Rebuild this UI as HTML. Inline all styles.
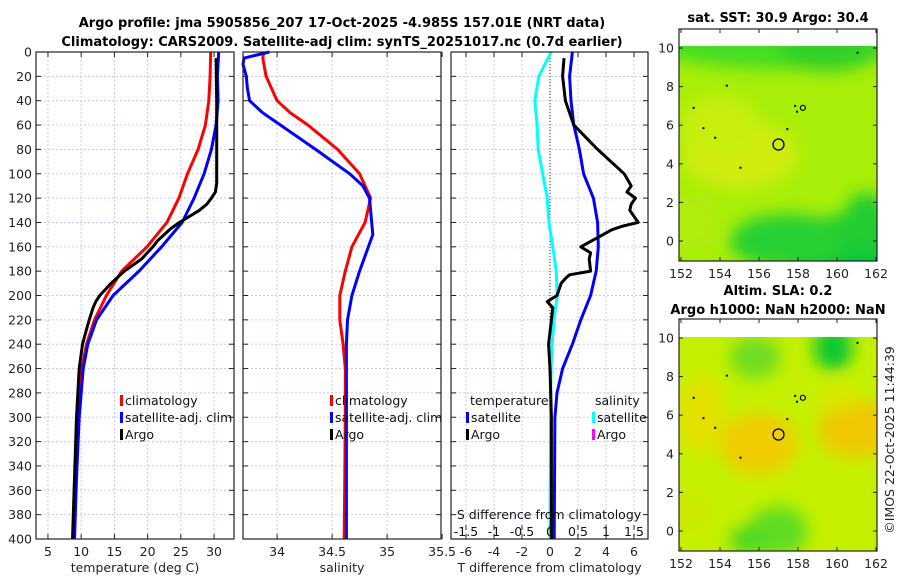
<!DOCTYPE html>
<html><head><meta charset="utf-8"><style>
html,body{margin:0;padding:0;background:#fff;}
svg{display:block;font-family:"DejaVu Sans","Liberation Sans",sans-serif;}
</style></head><body>
<svg id="fig" width="900" height="580" viewBox="0 0 900 580">
<defs>
<filter id="blur1" x="-50%" y="-50%" width="200%" height="200%"><feGaussianBlur stdDeviation="8"/></filter>
<clipPath id="clipM1"><rect x="679" y="46" width="198" height="215"/></clipPath>
<clipPath id="clipM2"><rect x="679" y="337" width="198" height="214"/></clipPath>
</defs>
<text x="342" y="27" text-anchor="middle" font-size="13" font-weight="bold">Argo profile: jma 5905856_207 17-Oct-2025 -4.985S 157.01E (NRT data)</text>
<text x="342" y="46" text-anchor="middle" font-size="13" font-weight="bold">Climatology: CARS2009. Satellite-adj clim: synTS_20251017.nc (0.7d earlier)</text>
<text x="778" y="22" text-anchor="middle" font-size="13" font-weight="bold">sat. SST: 30.9 Argo: 30.4</text>
<text x="778" y="295" text-anchor="middle" font-size="13" font-weight="bold">Altim. SLA: 0.2</text>
<text x="778" y="314" text-anchor="middle" font-size="13" font-weight="bold">Argo h1000: NaN h2000: NaN</text>
<text transform="translate(894,440) rotate(-90)" text-anchor="middle" font-size="12.5" fill="#222">©IMOS 22-Oct-2025 11:44:39</text>
<g id="panels"></g>
</svg>
<script>
// ---- data ----
const depthTicks=[0,20,40,60,80,100,120,140,160,180,200,220,240,260,280,300,320,340,360,380,400];
const tempTicks=[5,10,15,20,25,30];
const salTicks=[34,34.5,35,35.5];
const tdiffTicks=[-6,-4,-2,0,2,4,6];
const sdiffTicks=[-1.5,-1,-0.5,0,0.5,1,1.5];
const latTicks=[0,2,4,6,8,10];
const lonTicks=[152,154,156,158,160,162];

const climDepthT=[0,20,40,60,80,100,120,140,160,180,200,220,240,260,300,350,400];
const climTemp=[29.5,29.4,29.2,28.7,27.6,26,24.7,22.9,19.9,16.1,13.8,12,10.8,10.1,9.5,9.1,8.8];
const satDepthT=[0,20,40,60,80,100,120,140,160,180,200,220,240,260,300,350,400];
const satTemp=[30.7,30.5,30.6,30.3,29.6,28.5,27,25.2,22.1,18.7,14.8,12.3,11,10.3,9.7,9.3,9];
const argoDepth=[5,40,80,108,115,120,125,130,135,140,145,150,155,160,170,180,190,200,205,210,220,230,240,260,300,350,400];
const argoTemp=[30.3,30.4,30.4,30.4,30.2,29.6,28.9,27.8,26.3,24.8,23.5,22.5,21.5,20.8,19.1,16.5,14.5,12.8,12.2,11.8,11.2,10.7,10.2,9.7,9.3,9,8.7];

const climDepthS=[0,5,20,30,40,50,60,80,100,120,140,160,180,200,220,240,260,300,400];
const climSal=[33.88,33.87,33.9,33.95,34.0,34.12,34.28,34.55,34.75,34.85,34.8,34.68,34.62,34.57,34.57,34.6,34.62,34.62,34.61];
const satDepthS=[0,5,10,20,30,40,50,60,80,100,110,120,140,150,160,180,200,220,240,300,400];
const satSal=[33.93,33.7,33.69,33.72,33.73,33.75,33.87,34.03,34.35,34.66,34.78,34.84,34.86,34.87,34.83,34.75,34.68,34.64,34.63,34.63,34.63];

const diffDepthA=[5,20,40,60,80,100,110,115,120,125,130,140,143,146,150,160,165,170,180,183,186,190,200,205,210,220,240,260,300,400];
const argoTdiff=[1.0,0.9,1.1,1.7,3.4,5.3,5.8,5.5,6.1,5.8,5.7,6.3,5.2,4.4,3.8,2.2,2.9,2.8,2.9,1.4,1.1,0.8,0.5,-0.2,0.2,0.1,-0.1,0,0.1,0.1];
const diffDepthS=[0,20,40,60,80,100,120,140,160,180,200,220,240,260,280,300,400];
const satTdiff=[1.6,1.4,1.5,1.7,2.1,2.4,3.1,3.4,3.45,3.3,2.9,2.2,1.6,0.9,0.5,0.35,0.3];
const satSdiff=[0.02,-0.2,-0.27,-0.23,-0.21,-0.13,-0.05,-0.02,0.05,0.11,0.13,0.07,0.04,0.02,0.01,0.01,0];

const NS='http://www.w3.org/2000/svg';
const root=document.getElementById('panels');
function el(tag,attrs,parent){const e=document.createElementNS(NS,tag);for(const k in attrs)e.setAttribute(k,attrs[k]);(parent||root).appendChild(e);return e;}

const Y0=52,Y1=539;
const yD=d=>Y0+(d/400)*(Y1-Y0);

function panel(name,x0,x1,xmin,xmax,xticks,xlabel,showY){
  const g=el('g',{});
  
  
  const xs=v=>x0+(v-xmin)/(xmax-xmin)*(x1-x0);
  xticks.forEach(t=>{const x=xs(t);if(x>x0+1&&x<x1-1){const l=el('line',{x1:x,x2:x,y1:Y0,y2:Y1,stroke:'#c8c8f0','stroke-width':1,'stroke-dasharray':'2,2'},g);}});
  depthTicks.forEach(d=>{const y=yD(d);if(d>0&&d<400){const l=el('line',{x1:x0,x2:x1,y1:y,y2:y,stroke:'#c8c8f0','stroke-width':1,'stroke-dasharray':'2,2'},g);}
    el('line',{x1:x0,x2:x0+5,y1:y,y2:y,stroke:'#222'},g);el('line',{x1:x1,x2:x1-5,y1:y,y2:y,stroke:'#222'},g);
    if(showY){const t=el('text',{x:x0-4,y:y+4.5,'text-anchor':'end','font-size':12.5,fill:'#222'},g);t.textContent=d;}
  });
  xticks.forEach(t=>{const x=xs(t);el('line',{x1:x,x2:x,y1:Y1,y2:Y1-5,stroke:'#222'},g);el('line',{x1:x,x2:x,y1:Y0,y2:Y0+5,stroke:'#222'},g);
    const tx=el('text',{x:x,y:Y1+17,'text-anchor':'middle','font-size':12.5,fill:'#222'},g);tx.textContent=t;});
  const xl=el('text',{x:(x0+x1)/2,y:572,'text-anchor':'middle','font-size':12.5,fill:'#222'},g);xl.textContent=xlabel;
  
  
  return {g,xs,x0,x1};
}
function line(p,depths,vals,color,name,w){
  const pts=depths.map((d,i)=>p.xs(vals[i]).toFixed(1)+','+yD(d).toFixed(1)).join(' ');
  const l=el('polyline',{points:pts,fill:'none',stroke:color,'stroke-width':w||3,'stroke-linejoin':'round'},p.g);
  
  
}
function frame(p){el('rect',{x:p.x0,y:Y0,width:p.x1-p.x0,height:Y1-Y0,fill:'none',stroke:'#222','stroke-width':1.2},p.g);}
function legend(g,x,y,items){
  items.forEach((it,i)=>{const yy=y+i*17;
    el('rect',{x:x,y:yy-10,width:3,height:11,fill:it[1]},g);
    const t=el('text',{x:x+5,y:yy,'font-size':12.5,fill:'#111'},g);t.textContent=it[0];
    
    
  });
}

const p1=panel('temperature-panel',36,234,3.2,33,tempTicks,'temperature (deg C)',true);
line(p1,climDepthT,climTemp,'#ff0000','climatology-temp-line');
line(p1,satDepthT,satTemp,'#0000ff','satellite-temp-line');
line(p1,argoDepth,argoTemp,'#000000','argo-temp-line');
legend(p1.g,120,405,[['climatology','#ff0000'],['satellite-adj. clim','#0000ff'],['Argo','#000']]);
frame(p1);

const p2=panel('salinity-panel',243,441,33.69,35.49,salTicks,'salinity',false);
line(p2,climDepthS,climSal,'#ff0000','climatology-salinity-line');
line(p2,satDepthS,satSal,'#0000ff','satellite-salinity-line');
legend(p2.g,330,405,[['climatology','#ff0000'],['satellite-adj. clim','#0000ff'],['Argo','#000']]);
frame(p2);

const p3=panel('difference-panel',451,648,-7.07,7.0,tdiffTicks,'T difference from climatology',false);
const sx=v=>p3.xs(v*4);
el('line',{x1:p3.xs(0),x2:p3.xs(0),y1:Y0,y2:Y1,stroke:'#333','stroke-width':1,'stroke-dasharray':'1,2'},p3.g);
line(p3,diffDepthS,satSdiff.map(v=>v*4),'#00ffff','satellite-salinity-diff-line');
line(p3,diffDepthS,satTdiff,'#0000ff','satellite-temp-diff-line');
line(p3,diffDepthA,argoTdiff,'#000000','argo-temp-diff-line');
sdiffTicks.forEach(t=>{const x=sx(t);el('line',{x1:x,x2:x,y1:Y1-14,y2:Y1-9,stroke:'#222'},p3.g);
  const tx=el('text',{x:x,y:Y1-3,'text-anchor':'middle','font-size':12.5,fill:'#111'},p3.g);tx.textContent=t;
  
  });
const st=el('text',{x:549,y:Y1-20,'text-anchor':'middle','font-size':12.5,fill:'#111'},p3.g);st.textContent='S difference from climatology';


const th=el('text',{x:470,y:405,'font-size':12.5,fill:'#111'},p3.g);th.textContent='temperature';


const sh=el('text',{x:595,y:405,'font-size':12.5,fill:'#111'},p3.g);sh.textContent='salinity';


legend(p3.g,466,422,[['satellite','#0000ff'],['Argo','#000']]);
legend(p3.g,592,422,[['satellite','#00ffff'],['Argo','#ff00ff']]);
frame(p3);

function map(name,top,bottom,lat10,lat0,base,blobs,clip){
  const g=el('g',{});
  
  
  const L=679,R=877;
  const lx=v=>681+(v-152)*19.5, ly=v=>lat0+(lat10-lat0)*v/10;
  const inner=el('g',{'clip-path':'url(#'+clip+')'},g);
  el('rect',{x:L,y:ly(10.1),width:R-L,height:bottom-ly(10.1),fill:base},inner);
  const bg=el('g',{filter:'url(#blur1)'},inner);
  blobs.forEach(b=>el('ellipse',{cx:lx(b[0]),cy:ly(b[1]),rx:b[2]*19.5,ry:b[3]*19.3,fill:b[4]},bg));
  [[154.3,8.1],[152.6,6.95],[153.1,5.9],[153.7,5.4],[155,3.85],[157.4,5.85],[157.8,7.05],[157.9,6.75],[161,9.8]].forEach(p=>el('rect',{x:lx(p[0]),y:ly(p[1]),width:2,height:2,fill:'#000'},inner));
  el('circle',{cx:lx(158.25),cy:ly(6.9),r:2.5,fill:'none',stroke:'#000','stroke-width':1.2},inner);
  const c=el('circle',{cx:lx(157),cy:ly(5),r:5.5,fill:'none',stroke:'#000','stroke-width':1.3},g);
  
  
  el('rect',{x:L,y:top,width:R-L,height:bottom-top,fill:'none',stroke:'#222','stroke-width':1.2},g);
  latTicks.forEach(t=>{const y=ly(t);el('line',{x1:L,x2:L+4,y1:y,y2:y,stroke:'#222'},g);el('line',{x1:R,x2:R-4,y1:y,y2:y,stroke:'#222'},g);
    const tx=el('text',{x:L-5,y:y+4.5,'text-anchor':'end','font-size':12.5,fill:'#222'},g);tx.textContent=t;
    
    });
  lonTicks.forEach(t=>{const x=lx(t);el('line',{x1:x,x2:x,y1:bottom,y2:bottom-4,stroke:'#222'},g);el('line',{x1:x,x2:x,y1:top,y2:top+4,stroke:'#222'},g);
    const tx=el('text',{x:x,y:bottom+17,'text-anchor':'middle','font-size':12.5,fill:'#222'},g);tx.textContent=t;
    
    });
}
map('sst-map',29,261,48,241,'#a8ee08',[
  [157,10.5,7,1.6,'#44dd22'],[159.5,9.8,2.5,1,'#30d028'],[155,4.5,3,1.8,'#d0ec08'],[154,6,2,1.5,'#c8ee08'],
  [160.5,-0.5,3.5,1.8,'#10c838'],[157.5,0,3,1.4,'#28d030'],[161.5,1,1.2,1.5,'#20cc30'],[152.5,1,1.5,1.5,'#b0ec10']
],'clipM1');
map('sla-map',319,551,338,531,'#c4f000',[
  [161,5.3,2,1.5,'#f0c800'],[156,4.5,2,1.6,'#f0cc00'],[153,6,1.2,2,'#e4e000'],[159.8,9.5,1,1.2,'#10c830'],
  [155.8,9,1.3,1.1,'#70dc20'],[157,0,1.5,1.3,'#60dc20'],[155.5,-0.5,1,0.8,'#50d820'],[152.5,1,1,1,'#cce800'],[160,7,1,0.7,'#d8e800']
],'clipM2');
</script>
</body></html>
